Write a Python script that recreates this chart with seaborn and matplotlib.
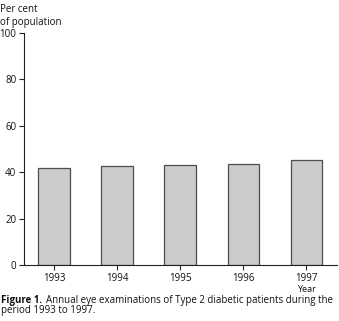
import matplotlib
matplotlib.use("Agg")
import matplotlib.pyplot as plt
import seaborn as sns
import pandas as pd

years = ["1993", "1994", "1995", "1996", "1997"]
values = [41.9, 42.5, 43.0, 43.4, 45.1]
yticks = [0, 20, 40, 60, 80, 100]

sns.set_style("ticks")
plt.rcParams['font.family'] = ['Open Sans', 'DejaVu Sans']

df = pd.DataFrame({"year": years, "pct": values})

fig = plt.figure(figsize=(3.39, 3.21), dpi=100)
ax = fig.add_axes([24/339, 1 - 265/321, (336.5 - 24)/339, (265 - 33)/321])

sns.barplot(data=df, x="year", y="pct", ax=ax, color="#cccccc",
            edgecolor="#4d4d4d", linewidth=0.9, width=0.5, saturation=1)

ax.set_ylim(0, 100)
ax.set_xlim(-0.48, 4.48)
ax.set_yticks(yticks)
ax.set_xlabel("")
ax.set_ylabel("")
for s in ["top", "right"]:
    ax.spines[s].set_visible(False)
for s in ["left", "bottom"]:
    ax.spines[s].set_linewidth(0.8)
    ax.spines[s].set_color("#222222")
ax.tick_params(axis="both", labelsize=7, length=3.5, width=0.8, color="#222222", labelcolor="#111111")
ax.tick_params(axis="y", pad=2)
ax.tick_params(axis="x", pad=2.5)

fig.text(0/339, 1 - 4/321, "Per cent\nof population", fontsize=7, va="top", ha="left",
         linespacing=1.2, color="#111111")
fig.text(306.5/339, 1 - 289/321, "Year", fontsize=6.6, va="center", ha="center", color="#111111")

fig.canvas.draw()
t1 = fig.text(1/339, 1 - 300.5/321, "Figure 1.", fontsize=7, fontweight="bold", va="center", ha="left", color="#111111")
fig.canvas.draw()
bb = t1.get_window_extent()
x2 = bb.x1 / fig.bbox.width + 4/339
fig.text(x2, 1 - 300.5/321, "Annual eye examinations of Type 2 diabetic patients during the",
         fontsize=7, va="center", ha="left", color="#111111")
fig.text(1/339, 1 - 311/321, "period 1993 to 1997.", fontsize=7, va="center", ha="left", color="#111111")

fig.savefig("out.png", dpi=100)
